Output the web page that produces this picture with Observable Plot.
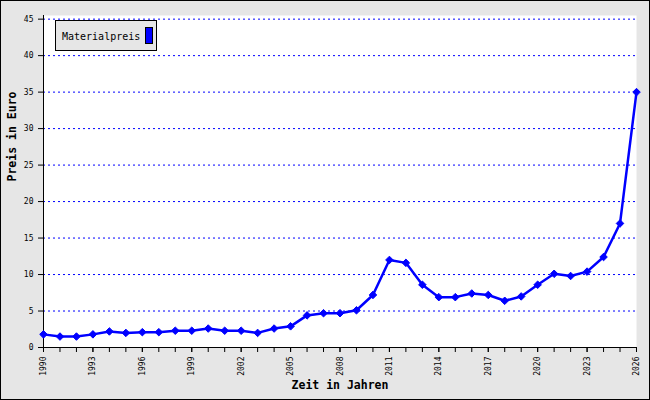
<!DOCTYPE html>
<html>
<head>
<meta charset="utf-8">
<script src="https://cdn.jsdelivr.net/npm/d3@7"></script>
<script src="https://cdn.jsdelivr.net/npm/@observablehq/plot@0.6"></script>
<style>
  body { margin: 0; background: #e6e6e6; }
  #wrap { position: relative; width: 650px; height: 400px; }
  #legend {
    position: absolute; left: 55px; top: 20px; width: 100px; height: 29px;
    background: #e6e6e6; border: 1px solid #000; box-sizing: content-box;
    font-family: "DejaVu Sans Mono", monospace; font-size: 10px; color: #000;
  }
  #legend span.t { position: absolute; left: 6px; top: 10px; line-height: 12px; }
  #legend span.s { position: absolute; left: 89px; top: 6px; width: 6px; height: 15px; background: #0000ff; border: 1px solid #000; }
  #frameborder { position: absolute; left: 0; top: 0; width: 648px; height: 398px; border: 1px solid #000; pointer-events: none; }
</style>
</head>
<body>
<div id="wrap"></div>
<script>
const years = [1990,1991,1992,1993,1994,1995,1996,1997,1998,1999,2000,2001,2002,2003,2004,2005,2006,2007,2008,2009,2010,2011,2012,2013,2014,2015,2016,2017,2018,2019,2020,2021,2022,2023,2024,2025,2026];
const materialpreis = [1.8,1.5,1.5,1.8,2.2,2.0,2.1,2.1,2.3,2.3,2.6,2.3,2.3,2.0,2.6,2.9,4.4,4.7,4.7,5.1,7.2,12.0,11.6,8.6,6.9,6.9,7.4,7.2,6.4,7.0,8.6,10.1,9.8,10.4,12.4,17.0,35.0];
const yTicks = [0,5,10,15,20,25,30,35,40,45];
const xLabelYears = [1990,1993,1996,1999,2002,2005,2008,2011,2014,2017,2020,2023,2026];
const seriesName = "Materialpreis";
const xTitle = "Zeit in Jahren";
const yTitle = "Preis in Euro";

const data = years.map((y, i) => ({year: y, value: materialpreis[i]}));
const font = "DejaVu Sans Mono, monospace";

const chart = Plot.plot({
  width: 650,
  height: 400,
  marginLeft: 43,
  marginRight: 14,
  marginTop: 15,
  marginBottom: 53,
  style: {background: "#e6e6e6", fontFamily: font, fontSize: "8px", color: "#000"},
  x: {domain: [1990, 2026], label: null},
  y: {domain: [0, 45.5], label: null},
  marks: [
    Plot.frame({fill: "white", stroke: null}),
    Plot.ruleY(yTicks.filter(d => d > 0), {stroke: "#0000ff", strokeDasharray: "2,3", strokeWidth: 1}),
    Plot.axisY({ticks: yTicks, tickSize: 5, tickPadding: 5, tickFormat: d => String(d), fontSize: 8}),
    Plot.axisX({ticks: years, tickSize: 5, tickFormat: null, text: null}),
    Plot.axisX({ticks: xLabelYears, tickSize: 5, tickPadding: 4, tickRotate: -90, tickFormat: d => String(d), fontSize: 8}),
    Plot.ruleX([1990], {stroke: "#000"}),
    Plot.ruleY([0], {stroke: "#000"}),
    Plot.line(data, {x: "year", y: "value", stroke: "#0000ff", strokeWidth: 2.5}),
    Plot.dot(data, {x: "year", y: "value", symbol: "diamond2", r: 3.4, fill: "#0000ff", stroke: "#0000ff", strokeWidth: 1}),
    Plot.text([yTitle], {frameAnchor: "left", dx: -31, rotate: -90, text: d => d, fontWeight: "bold", fontSize: 11.5, fill: "#000"}),
    Plot.text([xTitle], {frameAnchor: "bottom", dy: 41, text: d => d, fontWeight: "bold", fontSize: 11.5, fill: "#000"})
  ]
});

const wrap = document.getElementById("wrap");
wrap.appendChild(chart);
const legend = document.createElement("div");
legend.id = "legend";
legend.innerHTML = `<span class="t">${seriesName}</span><span class="s"></span>`;
wrap.appendChild(legend);
const fb = document.createElement("div");
fb.id = "frameborder";
wrap.appendChild(fb);
</script>
</body>
</html>
